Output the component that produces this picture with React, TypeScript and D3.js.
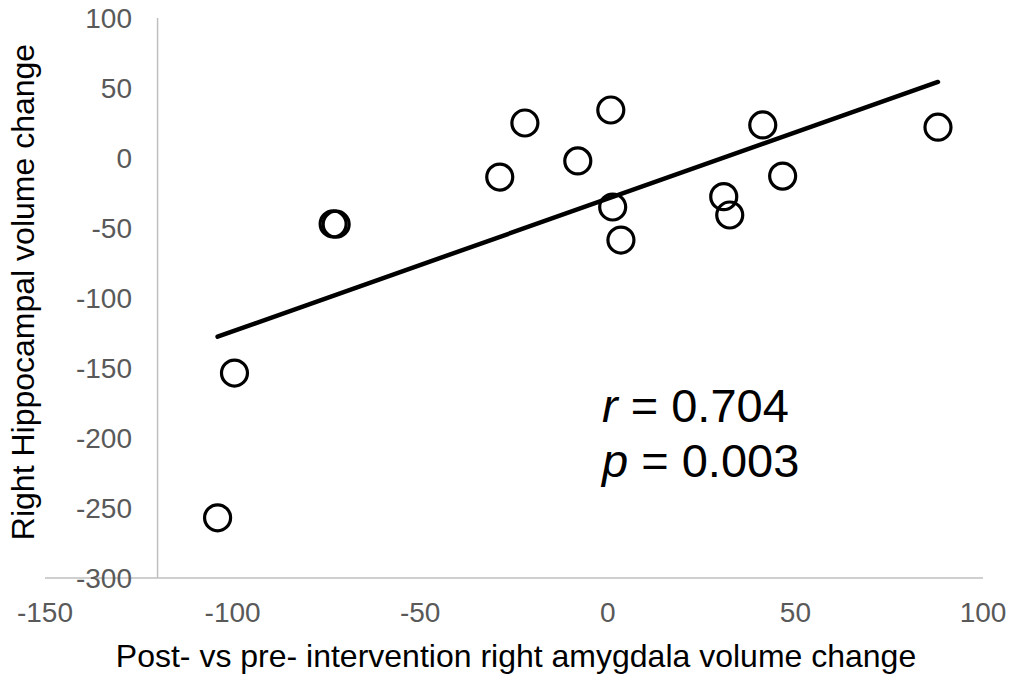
import React, { useEffect, useRef } from "react";
import * as d3 from "d3";

// amygdala change (x) vs hippocampal change (y)
const amygdala = [-104, -99.5, -73.2, -72.4, -28.8, -22.1, -8, 0.8, 1.3, 3.5, 41.3, 46.6, 30.9, 32.5, 88];
const hippocampus = [-257, -153.6, -47.1, -47.3, -13.6, 25, -2.1, 34.3, -35, -58.6, 23.6, -12.9, -27.6, -40.7, 22];
const xTicks = [-150, -100, -50, 0, 50, 100];
const yTicks = [100, 50, 0, -50, -100, -150, -200, -250, -300];

const App = () => {
  const svgRef = useRef<SVGSVGElement>(null);

  useEffect(() => {
    const w = 1015;
    const h = 674;
    const font = "'Liberation Sans', Arial, sans-serif";

    const svg = d3.select(svgRef.current).attr("width", w).attr("height", h);
    svg.selectAll("*").remove();

    const x = d3.scaleLinear().domain([-150, 100]).range([45, 983]);
    const y = d3.scaleLinear().domain([-300, 100]).range([578, 18]);

    // axes (vertical axis crosses at x = -120, as in the original)
    svg.append("line")
      .attr("x1", x(-150)).attr("x2", x(100))
      .attr("y1", y(-300)).attr("y2", y(-300))
      .attr("stroke", "#bfbfbf").attr("stroke-width", 1.5);
    svg.append("line")
      .attr("x1", x(-120)).attr("x2", x(-120))
      .attr("y1", y(100)).attr("y2", y(-300))
      .attr("stroke", "#bfbfbf").attr("stroke-width", 1.5);

    svg.selectAll("text.ytick")
      .data(yTicks)
      .join("text")
      .classed("ytick", true)
      .attr("x", 132)
      .attr("y", d => y(d) + 10)
      .attr("text-anchor", "end")
      .attr("font-family", font)
      .attr("font-size", 28)
      .attr("fill", "#595959")
      .text(d => d);

    svg.selectAll("text.xtick")
      .data(xTicks)
      .join("text")
      .classed("xtick", true)
      .attr("x", d => x(d))
      .attr("y", 622)
      .attr("text-anchor", "middle")
      .attr("font-family", font)
      .attr("font-size", 28)
      .attr("fill", "#595959")
      .text(d => d);

    // axis titles
    svg.append("text")
      .attr("x", 516).attr("y", 667)
      .attr("text-anchor", "middle")
      .attr("font-family", font).attr("font-size", 32)
      .attr("fill", "#000")
      .text("Post- vs pre- intervention right amygdala volume change");
    svg.append("text")
      .attr("transform", "translate(34, 292) rotate(-90)")
      .attr("text-anchor", "middle")
      .attr("font-family", font).attr("font-size", 32)
      .attr("fill", "#000")
      .text("Right Hippocampal volume change");

    // least squares trend line
    const mx = d3.mean(amygdala)!;
    const my = d3.mean(hippocampus)!;
    const sxy = d3.sum(amygdala, (v, i) => (v - mx) * (hippocampus[i] - my));
    const sxx = d3.sum(amygdala, v => (v - mx) ** 2);
    const slope = sxy / sxx;
    const icpt = my - slope * mx;
    const [x0, x1] = d3.extent(amygdala) as [number, number];
    const line = d3.line<number>().x(d => x(d)).y(d => y(icpt + slope * d));
    svg.append("path")
      .attr("d", line([x0, x1]))
      .attr("stroke", "#000")
      .attr("stroke-width", 4.5)
      .attr("stroke-linecap", "round")
      .attr("fill", "none");

    // points
    svg.selectAll("circle.pt")
      .data(amygdala)
      .join("circle")
      .classed("pt", true)
      .attr("cx", d => x(d))
      .attr("cy", (d, i) => y(hippocampus[i]))
      .attr("r", 13)
      .attr("fill", "none")
      .attr("stroke", "#000")
      .attr("stroke-width", 3.2);

    // stats
    const stats = svg.append("g").attr("font-family", font).attr("font-size", 47).attr("fill", "#000");
    const r1 = stats.append("text").attr("x", 602).attr("y", 422);
    r1.append("tspan").attr("font-style", "italic").text("r");
    r1.append("tspan").text(" = 0.704");
    const r2 = stats.append("text").attr("x", 602).attr("y", 477);
    r2.append("tspan").attr("font-style", "italic").text("p");
    r2.append("tspan").text(" = 0.003");
  }, []);

  return (
    <svg ref={svgRef} style={{ position: "absolute", left: 0, top: 0, background: "#fff" }} />
  );
};

export default App;
